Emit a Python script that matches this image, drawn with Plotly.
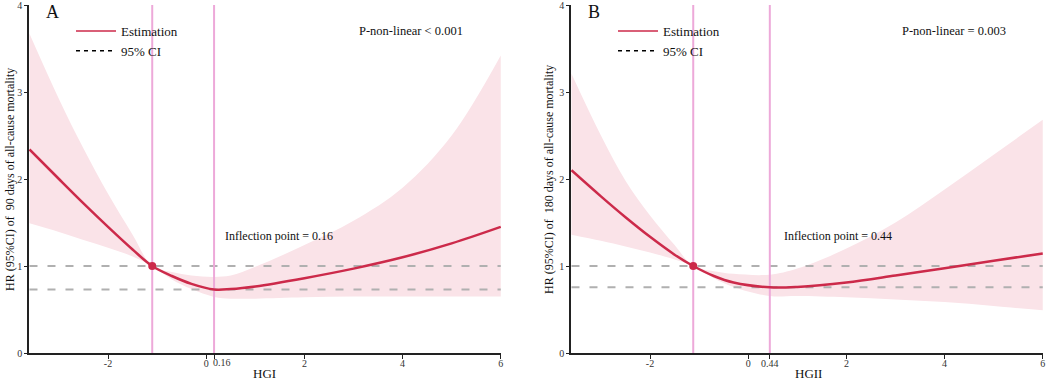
import plotly.graph_objects as go

# ---------------- data ----------------
x_hgi = [-3.6, -3.0, -2.5, -2.0, -1.5, -1.1, -0.7, -0.3, 0.16, 0.5, 1.0, 2.0, 3.0, 4.0, 5.0, 6.0]
est_hgi = [2.34, 2.00, 1.72, 1.45, 1.19, 1.00, 0.885, 0.795, 0.73, 0.735, 0.765, 0.86, 0.97, 1.10, 1.26, 1.45]
upper_hgi = [3.67, 2.92, 2.35, 1.83, 1.36, 1.00, 0.93, 0.89, 0.875, 0.89, 0.99, 1.24, 1.52, 1.90, 2.50, 3.42]
lower_hgi = [1.49, 1.39, 1.30, 1.21, 1.11, 1.00, 0.845, 0.735, 0.645, 0.625, 0.625, 0.64, 0.65, 0.65, 0.65, 0.65]

x_hgii = [-3.6, -3.0, -2.5, -2.0, -1.5, -1.12, -0.7, -0.3, 0.44, 1.0, 2.0, 3.0, 4.0, 5.0, 6.0]
est_hgii = [2.10, 1.80, 1.56, 1.335, 1.13, 1.00, 0.885, 0.81, 0.755, 0.76, 0.81, 0.89, 0.975, 1.06, 1.145]
upper_hgii = [3.21, 2.50, 1.98, 1.58, 1.24, 1.00, 0.94, 0.91, 0.90, 0.97, 1.20, 1.50, 1.88, 2.28, 2.68]
lower_hgii = [1.36, 1.29, 1.225, 1.155, 1.075, 1.00, 0.86, 0.76, 0.655, 0.655, 0.64, 0.615, 0.585, 0.54, 0.49]

ref_hgi, inflect_hgi = -1.1, 0.16
ref_hgii, inflect_hgii = -1.12, 0.44

x_ticks = [-2, 0, 2, 4, 6]
y_ticks = [0, 1, 2, 3, 4]

panel_labels = ["A", "B"]
x_titles = ["HGI", "HGII"]
y_titles = ["HR (95%CI) of  90 days of all-cause mortality",
            "HR (95%CI) of  180 days of all-cause mortality"]
p_texts = ["P-non-linear < 0.001", "P-non-linear = 0.003"]

# ---------------- styles ----------------
FONT = "Liberation Serif, Times New Roman, serif"
RED = "#CC2A4A"
BAND = "#FAE3E8"
VLINE = "#EDA9D9"
HDASH = "#B0B0B0"

fig = go.Figure()

panels = [
    (x_hgi, est_hgi, upper_hgi, lower_hgi, ref_hgi, inflect_hgi, "x", "y", "legend"),
    (x_hgii, est_hgii, upper_hgii, lower_hgii, ref_hgii, inflect_hgii, "x2", "y2", "legend2"),
]

for i, (xs, est, up, lo, ref, infl, xa, ya, lg) in enumerate(panels):
    # CI band
    fig.add_trace(go.Scatter(x=xs, y=lo, mode="lines", line=dict(width=0, shape="spline"),
                             showlegend=False, hoverinfo="skip", xaxis=xa, yaxis=ya))
    fig.add_trace(go.Scatter(x=xs, y=up, mode="lines", line=dict(width=0, shape="spline"),
                             fill="tonexty", fillcolor=BAND, showlegend=False,
                             hoverinfo="skip", xaxis=xa, yaxis=ya))
    # horizontal dashed reference lines (HR = 1 and HR at inflection)
    hmin = est[xs.index(infl)]
    for yy in (1.0, hmin):
        fig.add_trace(go.Scatter(x=[xs[0], xs[-1]], y=[yy, yy], mode="lines",
                                 line=dict(color=HDASH, width=2, dash="8px,10px"),
                                 showlegend=False, hoverinfo="skip", xaxis=xa, yaxis=ya))
    # vertical lines
    for xx in (ref, infl):
        fig.add_trace(go.Scatter(x=[xx, xx], y=[0, 4], mode="lines",
                                 line=dict(color=VLINE, width=2),
                                 showlegend=False, hoverinfo="skip", xaxis=xa, yaxis=ya))
    # estimate curve
    fig.add_trace(go.Scatter(x=xs, y=est, mode="lines", line=dict(color=RED, width=2.5, shape="spline"),
                             showlegend=False, xaxis=xa, yaxis=ya))
    # reference dot
    fig.add_trace(go.Scatter(x=[ref], y=[1.0], mode="markers", marker=dict(color=RED, size=8),
                             showlegend=False, xaxis=xa, yaxis=ya))
    # legend entries
    fig.add_trace(go.Scatter(x=[None], y=[None], mode="lines", name="Estimation",
                             line=dict(color=RED, width=1.5), legend=lg, xaxis=xa, yaxis=ya))
    fig.add_trace(go.Scatter(x=[None], y=[None], mode="lines", name="95% CI",
                             line=dict(color="black", width=1.5, dash="4px,4px"),
                             legend=lg, xaxis=xa, yaxis=ya))

W, H = 1052, 381
ml, mr, mt, mb = 29, 9, 5, 28
pw = W - ml - mr
d1 = [0, (501 - ml) / pw]
d2 = [(571 - ml) / pw, 1]

TICKFONT = dict(family=FONT, size=10, color="#333")

def xaxis(domain, infl, anchor, hide_infl_label):
    vals = sorted(x_ticks + [infl])
    txt = [("" if (v == infl and hide_infl_label) else f"{v:g}") for v in vals]
    return dict(domain=domain, range=[-3.61, 6.005], anchor=anchor, showgrid=False, zeroline=False,
                showline=True, linecolor="#222", linewidth=1.5, ticks="outside", ticklen=4,
                tickwidth=1, tickcolor="#222", tickvals=vals, ticktext=txt, tickangle=0,
                ticklabelstandoff=-4,
                automargin=False, ticklabeloverflow="allow", tickfont=TICKFONT)

def yaxis(anchor):
    return dict(domain=[0, 1], range=[0, 4], anchor=anchor, showgrid=False, zeroline=False,
                showline=True, linecolor="#222", linewidth=1.5, ticks="outside", ticklen=3,
                tickwidth=1, tickcolor="#222", tickvals=y_ticks, automargin=False,
                ticklabeloverflow="allow", tickfont=TICKFONT)

def px_x(p):
    return (p - ml) / pw

def px_y(p):
    return 1 - (p - mt) / (H - mt - mb)

ann = []
# inflection tick label of panel A (placed just right of the "0" label, as in the reference)
ann.append(dict(text=f"{inflect_hgi:g}", x=inflect_hgi, xref="x", y=px_y(362), yref="paper",
                xanchor="left", yanchor="middle", xshift=-3, showarrow=False, font=TICKFONT))
# y titles
for xp, t in zip([10, 549], y_titles):
    ann.append(dict(text=t, x=px_x(xp), y=px_y(180), xref="paper", yref="paper", textangle=-90,
                    showarrow=False, font=dict(family=FONT, size=12, color="#111"),
                    xanchor="center", yanchor="middle"))
# x titles
for xp, t in zip([264, 808], x_titles):
    ann.append(dict(text=t, x=px_x(xp), y=px_y(373), xref="paper", yref="paper",
                    showarrow=False, font=dict(family=FONT, size=13, color="#111"),
                    xanchor="center", yanchor="middle"))
# panel letters
for xp, t in zip([52, 594], panel_labels):
    ann.append(dict(text=t, x=px_x(xp), y=px_y(12), xref="paper", yref="paper",
                    showarrow=False, font=dict(family=FONT, size=18, color="#111"),
                    xanchor="center", yanchor="middle"))
# p values
for xp, t in zip([411, 954], p_texts):
    ann.append(dict(text=t, x=px_x(xp), y=px_y(31), xref="paper", yref="paper",
                    showarrow=False, font=dict(family=FONT, size=12.5, color="#111"),
                    xanchor="center", yanchor="middle"))
# inflection labels
for xp, v in zip([279, 838], [inflect_hgi, inflect_hgii]):
    ann.append(dict(text=f"Inflection point = {v:g}", x=px_x(xp), y=px_y(236), xref="paper",
                    yref="paper", showarrow=False, font=dict(family=FONT, size=12, color="#111"),
                    xanchor="center", yanchor="middle"))

legend_style = dict(font=dict(family=FONT, size=13, color="#111"), bgcolor="rgba(0,0,0,0)",
                    xanchor="left", yanchor="top", tracegroupgap=0, itemwidth=40,
                    traceorder="normal")

fig.update_layout(
    width=W, height=H, margin=dict(l=ml, r=mr, t=mt, b=mb, autoexpand=False),
    paper_bgcolor="white", plot_bgcolor="white",
    xaxis=xaxis(d1, inflect_hgi, "y", True), yaxis=yaxis("x"),
    xaxis2=xaxis(d2, inflect_hgii, "y2", False), yaxis2=yaxis("x2"),
    legend=dict(x=px_x(71), y=px_y(16), **legend_style),
    legend2=dict(x=px_x(613), y=px_y(16), **legend_style),
    annotations=ann,
)

fig.write_html("out.html", config={"displayModeBar": False},
               post_script="document.body.style.margin='0';document.body.style.overflow='hidden';")
